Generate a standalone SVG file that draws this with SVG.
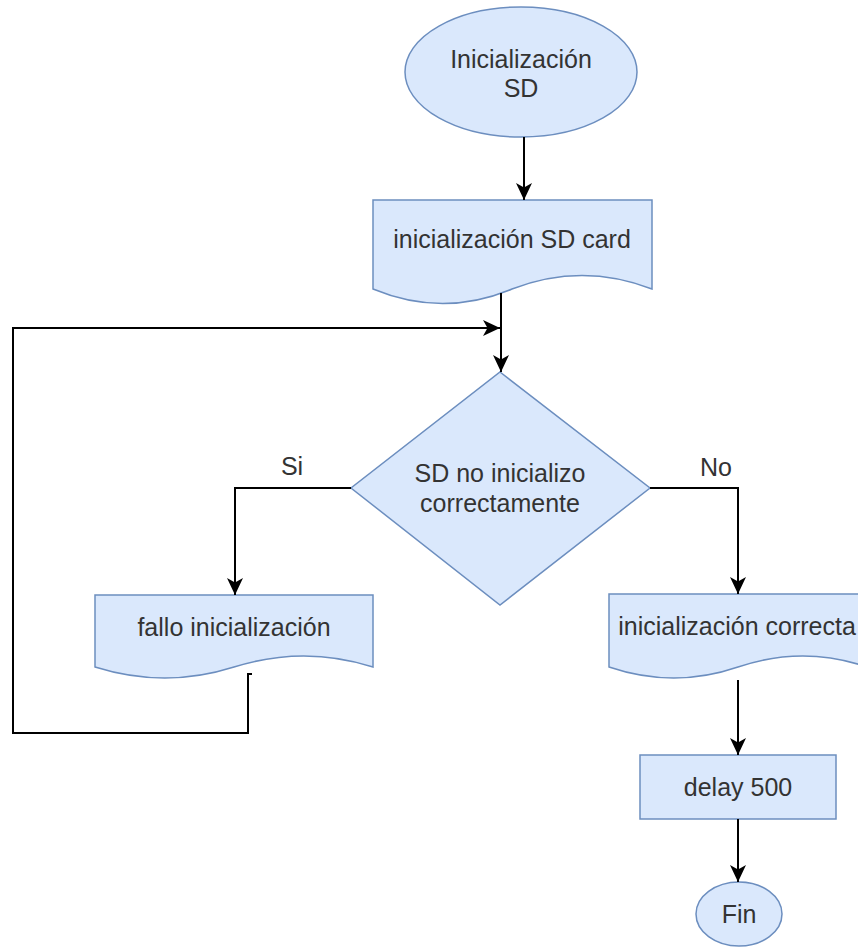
<svg xmlns="http://www.w3.org/2000/svg" width="858" height="947" viewBox="0 0 858 947">
<style>
.n{fill:#dae8fc;stroke:#6c8ebf;stroke-width:1.5}
.t{font-family:"Liberation Sans",Arial,sans-serif;font-size:25px;fill:#333;text-anchor:middle}
.e{fill:none;stroke:#000;stroke-width:2}
</style>
<defs>
<marker id="a" markerUnits="userSpaceOnUse" markerWidth="18" markerHeight="18" refX="17" refY="8" orient="auto" overflow="visible">
<path d="M0,0 L17,8 L0,16 L4.5,8 Z" fill="#000"/>
</marker>
</defs>
<rect width="858" height="947" fill="#fff"/>
<g id="start">
<ellipse class="n" cx="521" cy="72" rx="116" ry="65"/>
<text class="t" x="521" y="68">Inicialización</text>
<text class="t" x="521" y="97">SD</text>
</g>
<g id="sdcard">
<path class="n" d="M373,200 L652,200 L652,289 Q582,262 512,289 Q443,318 373,289 Z"/>
<text class="t" x="512" y="248">inicialización SD card</text>
</g>
<g id="decision">
<path class="n" d="M500,372 L650,488 L500,605 L351,488 Z"/>
<text class="t" x="500" y="482">SD no inicializo</text>
<text class="t" x="500" y="512">correctamente</text>
</g>
<g id="fallo">
<path class="n" d="M95,595 L373,595 L373,667 Q304,645 234,667 Q165,689 95,667 Z"/>
<text class="t" x="234" y="636">fallo inicialización</text>
</g>
<g id="correcta">
<path class="n" d="M609,594 L867,594 L867,667 Q803,645 738,667 Q674,689 609,667 Z"/>
<text class="t" x="737" y="635">inicialización correcta</text>
</g>
<g id="delay">
<rect class="n" x="640" y="755" width="196" height="64"/>
<text class="t" x="738" y="796">delay 500</text>
</g>
<g id="fin">
<ellipse class="n" cx="739" cy="914" rx="43" ry="32"/>
<text class="t" x="739" y="923">Fin</text>
</g>
<g id="connectors">
<path class="e" d="M524,137 L524,200" marker-end="url(#a)"/>
<path class="e" d="M501,293 L501,372" marker-end="url(#a)"/>
<path class="e" d="M252,674 L248,674 L248,733 L13,733 L13,328 L500,328" marker-end="url(#a)"/>
<path class="e" d="M351,488 L235,488 L235,595" marker-end="url(#a)"/>
<path class="e" d="M650,488 L738,488 L738,594" marker-end="url(#a)"/>
<path class="e" d="M738,680 L738,755" marker-end="url(#a)"/>
<path class="e" d="M738,819 L738,882" marker-end="url(#a)"/>
<text class="t" x="292" y="475">Si</text>
<text class="t" x="716" y="476">No</text>
</g>
</svg>
